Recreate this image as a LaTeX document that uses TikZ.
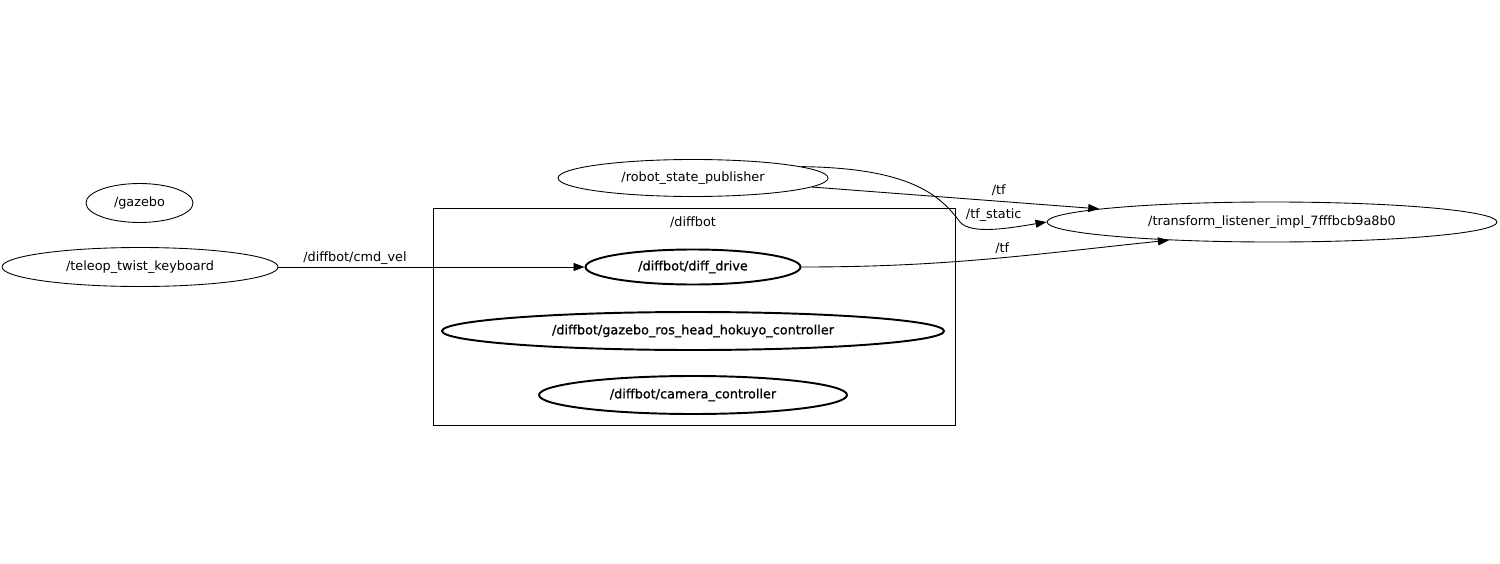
\documentclass[tikz,border=0pt]{standalone}
\usepackage{fontspec}
\setmainfont{DejaVu Sans}
\newfontfamily\nsfont{DejaVu Sans}[FakeBold=0.8]
\usetikzlibrary{shapes.geometric,arrows.meta}

\begin{document}
\begin{tikzpicture}[
        rosnode/.style={draw, ellipse, line width=0.5pt, inner sep=0pt, font=\fontsize{7.3}{9}\selectfont},
        nsnode/.style={rosnode, line width=1.1pt, font=\nsfont\fontsize{7.3}{9}\selectfont},
        topic/.style={font=\fontsize{7.3}{9}\selectfont, inner sep=1pt},
        link/.style={line width=0.5pt, -{Triangle[length=2.2mm,width=1.6mm]}}
    ]
        \useasboundingbox (0,0) rectangle (30,-11.26);

        % namespace box
        \draw[line width=0.5pt] (8.66,-4.16) rectangle (19.10,-8.50);
        \node[topic] (nsname) at (13.86,-4.44) {/diffbot};

        \node[rosnode, minimum width=2.14cm, minimum height=0.78cm] (gazebo) at (2.79,-4.06) {/gazebo};
        \node[rosnode, minimum width=5.52cm, minimum height=0.78cm] (teleop) at (2.80,-5.34) {/teleop\_twist\_keyboard};
        \node[rosnode, minimum width=5.40cm, minimum height=0.74cm] (rsp) at (13.86,-3.56) {/robot\_state\_publisher};

        \node[nsnode, minimum width=4.30cm, minimum height=0.70cm] (drive) at (13.86,-5.34) {/diffbot/diff\_drive};
        \node[nsnode, minimum width=10.04cm, minimum height=0.76cm] (hokuyo) at (13.86,-6.62) {/diffbot/gazebo\_ros\_head\_hokuyo\_controller};
        \node[nsnode, minimum width=6.16cm, minimum height=0.76cm] (camera) at (13.86,-7.90) {/diffbot/camera\_controller};

        \node[rosnode, minimum width=9.00cm, minimum height=0.80cm] (tl) at (25.44,-4.44) {/transform\_listener\_impl\_7fffbcb9a8b0};

        % topics
        \draw[link] (teleop) -- (drive) node[topic, above, pos=0.25] {/diffbot/cmd\_vel};
        \draw[link] (rsp) -- (tl) node[topic, above=2pt, pos=0.65] {/tf};
        \draw[link] (drive.east) to[out=0, in=186] node[topic, above=1pt, pos=0.55] {/tf} (tl.190);
        \draw[link] (rsp.6) .. controls (18.2,-3.36) and (18.8,-3.9) .. (19.2,-4.44)
            .. controls (19.42,-4.7) and (20.2,-4.56) .. (tl.west) node[topic, above=3pt, pos=0.5] {/tf\_static};
\end{tikzpicture}
\end{document}
